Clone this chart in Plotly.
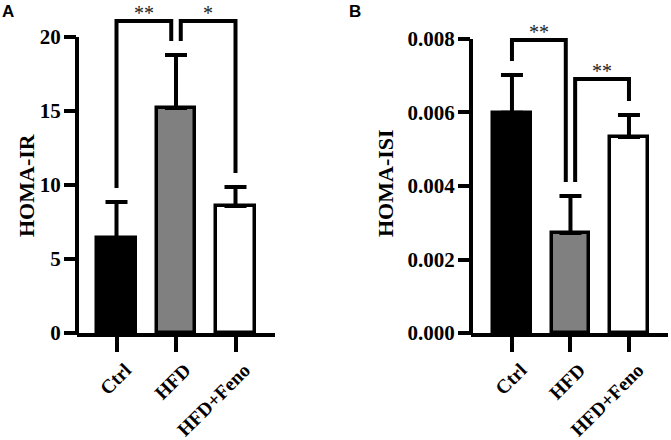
import plotly.graph_objects as go

# data
groups = ["Ctrl", "HFD", "HFD+Feno"]
ir_mean = [6.42, 15.2, 8.58]
ir_sd = [2.43, 3.58, 1.28]
isi_mean = [0.00599, 0.00272, 0.00533]
isi_sd = [0.00103, 0.00101, 0.00060]

# significance: (left group, right group, bracket top, label)
ir_sig = [(0, 1, 21.08, "**"), (1, 2, 21.08, "*")]
isi_sig = [(0, 1, 0.00797, "**"), (1, 2, 0.00691, "**")]

bar_colors = ["black", "#808080", "white"]
serif = "Liberation Serif"
W, H = 671, 440


def px_x(p):
    return p / W


def px_y(p):
    return (H - p) / H


panels = [
    dict(mean=ir_mean, sd=ir_sd, sig=ir_sig, xd=(77, 275), xr=[-0.664, 2.664],
         yr=[0, 21.55], tickvals=[0, 5, 10, 15, 20], fmt="d", gap=0.95,
         title="HOMA-IR", tx=27, ty=185, letter="A", lx=8),
    dict(mean=isi_mean, sd=isi_sd, sig=isi_sig, xd=(471, 668), xr=[-0.70, 2.667],
         yr=[0, 0.00868], tickvals=[0, 0.002, 0.004, 0.006, 0.008], fmt=".3f", gap=0.00038,
         title="HOMA-ISI", tx=385, ty=183, letter="B", lx=355),
]

fig = go.Figure()
shapes = []
annotations = []

for k, p in enumerate(panels):
    n = "" if k == 0 else str(k + 1)
    xa, ya = "x" + n, "y" + n
    ydom = [px_y(333), px_y(14)]

    fig.add_trace(go.Bar(
        x=[0, 1, 2], y=p["mean"], width=0.64,
        marker=dict(color=bar_colors, line=dict(color="black", width=3.5)),
        error_y=dict(type="data", symmetric=False, array=p["sd"], arrayminus=[0, 0, 0],
                     thickness=4, width=11, color="black"),
        xaxis=xa, yaxis=ya, showlegend=False,
    ))

    tops = [m + s for m, s in zip(p["mean"], p["sd"])]
    for i, j, top, label in p["sig"]:
        xl = i + (0.08 if i == 1 else 0)
        xr = j - (0.08 if j == 1 else 0)
        fig.add_trace(go.Scatter(
            x=[xl, xl, xr, xr], y=[tops[i] + p["gap"], top, top, tops[j] + p["gap"]],
            mode="lines", line=dict(color="black", width=4),
            xaxis=xa, yaxis=ya, showlegend=False, hoverinfo="skip",
        ))
        annotations.append(dict(
            x=(xl + xr) / 2, y=top, xref=xa, yref=ya, text=label, showarrow=False,
            yanchor="middle", yshift=8, font=dict(family=serif, size=20, color="#222"),
        ))

    # y spine only up to the top tick
    y_top = ydom[0] + (p["tickvals"][-1] - p["yr"][0]) / (p["yr"][1] - p["yr"][0]) * (ydom[1] - ydom[0])
    shapes.append(dict(type="line", xref="paper", yref="paper",
                       x0=px_x(p["xd"][0]), x1=px_x(p["xd"][0]), y0=ydom[0] - 2 / H, y1=y_top,
                       line=dict(color="black", width=4)))

    annotations.append(dict(x=px_x(p["tx"]), y=px_y(p["ty"]), xref="paper", yref="paper",
                            xanchor="center", yanchor="middle",
                            text="<b>" + p["title"] + "</b>", textangle=-90, showarrow=False,
                            font=dict(family=serif, size=22, color="black")))
    annotations.append(dict(x=px_x(p["lx"]), y=px_y(11), xref="paper", yref="paper",
                            xanchor="center", yanchor="middle", text="<b>" + p["letter"] + "</b>",
                            showarrow=False, font=dict(family="Liberation Sans", size=17, color="black")))

    fig.update_layout(**{
        "xaxis" + n: dict(domain=[px_x(p["xd"][0]), px_x(p["xd"][1])], range=p["xr"],
                          anchor=ya, tickvals=[0, 1, 2], ticktext=groups, tickangle=-45,
                          ticklabelshift=9, ticklabelstandoff=-1, automargin=False,
                          showline=True, linewidth=4, linecolor="black", ticks="outside",
                          ticklen=15, tickwidth=4, tickcolor="black", showgrid=False,
                          zeroline=False,
                          tickfont=dict(family=serif, size=19.5, color="black", weight="bold")),
        "yaxis" + n: dict(domain=ydom, range=p["yr"], anchor=xa, tickvals=p["tickvals"],
                          tickformat=p["fmt"], showline=False, ticks="outside", ticklen=12,
                          tickwidth=4, tickcolor="black", showgrid=False, zeroline=False,
                          ticklabelstandoff=-1, automargin=False,
                          tickfont=dict(family=serif, size=21, color="black", weight="bold")),
    })

fig.update_layout(
    width=W, height=H,
    margin=dict(l=0, r=0, t=0, b=0),
    paper_bgcolor="white", plot_bgcolor="white",
    shapes=shapes, annotations=annotations,
    bargap=0,
)

page_css = ("document.documentElement.style.margin = '0';"
            "document.documentElement.style.overflow = 'hidden';"
            "document.body.style.margin = '0';"
            "document.body.style.overflow = 'hidden';")
fig.write_html("out.html", config={"displayModeBar": False}, post_script=page_css)
